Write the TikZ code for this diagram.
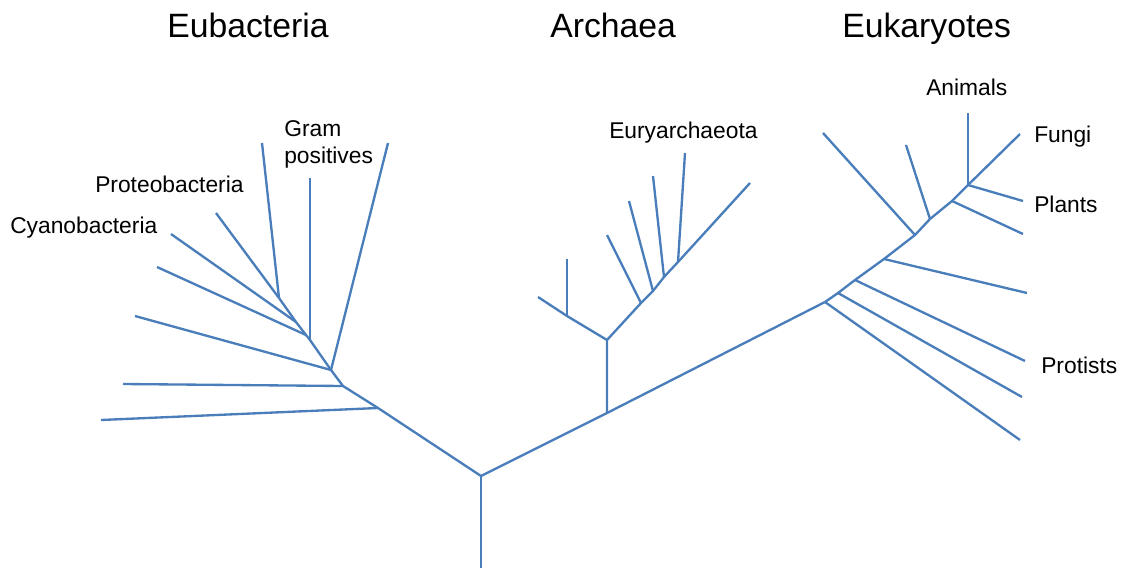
\documentclass[tikz,border=0pt]{standalone}
\usepackage{fontspec}
\setmainfont{Liberation Sans}
\usepackage{xcolor}
\usepackage{tikz}
\definecolor{treeblue}{HTML}{4A7EBB}

\begin{document}
\begin{tikzpicture}[
      x=0.75pt, y=-0.75pt,
      branch/.style={draw=treeblue, line width=1.75pt},
      kingdom/.style={anchor=base west, inner sep=0pt, font=\fontsize{25.3}{30}\selectfont},
      taxon/.style={anchor=base west, inner sep=0pt, font=\fontsize{17.1}{20}\selectfont}
    ]
      \useasboundingbox (0,0) rectangle (1122,568);
      % root and trunk
      \coordinate (base) at (481,568);
      \coordinate (root) at (481,476);
      % eubacteria
      \coordinate (b0) at (378,408);
      \coordinate (b1) at (343,386);
      \coordinate (b2) at (331,370);
      \coordinate (b3) at (310,340);
      \coordinate (b4) at (306,335);
      \coordinate (b5) at (296,322);
      \coordinate (j1) at (279,298);
      \coordinate (eb1) at (101,420);
      \coordinate (eb2) at (123,384);
      \coordinate (eb3) at (135,316);
      \coordinate (eb4) at (388,143);
      \coordinate (eb5) at (310,178);
      \coordinate (eb6) at (157,267);
      \coordinate (eb7) at (171,234);
      \coordinate (eb8) at (216,213);
      \coordinate (eb9) at (262,143);
      % archaea
      \coordinate (a0) at (607,413);
      \coordinate (a1) at (607,340);
      \coordinate (a2) at (567,316);
      \coordinate (a3) at (641,303);
      \coordinate (a4) at (653,291);
      \coordinate (a5) at (664,277);
      \coordinate (a6) at (678,262);
      \coordinate (ar1) at (538,297);
      \coordinate (ar2) at (567,259);
      \coordinate (ar3) at (607,235);
      \coordinate (ar4) at (629,201);
      \coordinate (ar5) at (653,176);
      \coordinate (ar6) at (685,153);
      \coordinate (ar7) at (750,183);
      % eukaryotes
      \coordinate (e0) at (825,302);
      \coordinate (e1) at (838,293);
      \coordinate (e2) at (855,280);
      \coordinate (e3) at (884,259);
      \coordinate (e4) at (915,235);
      \coordinate (e5) at (930,219);
      \coordinate (e6) at (952,201);
      \coordinate (e7) at (968,185);
      \coordinate (ek1) at (1020,440);
      \coordinate (ek2) at (1022,397);
      \coordinate (ek3) at (1025,361);
      \coordinate (ek4) at (1027,293);
      \coordinate (ek5) at (823,133);
      \coordinate (ek6) at (906,145);
      \coordinate (ek7) at (1023,234);
      \coordinate (ek8) at (1023,201);
      \coordinate (ek9) at (968,113);
      \coordinate (ek10) at (1020,134);

      \draw[branch] (base) -- (root);
      \draw[branch] (root) -- (b0) -- (b1) -- (b2) -- (b3) -- (b4) -- (b5) -- (j1);
      \draw[branch] (root) -- (a0) -- (e0);
      \draw[branch] (a0) -- (a1) -- (a2) -- (ar1);
      \draw[branch] (a1) -- (a3) -- (a4) -- (a5) -- (a6) -- (ar7);
      \draw[branch] (e0) -- (e1) -- (e2) -- (e3) -- (e4) -- (e5) -- (e6) -- (e7) -- (ek10);
      \foreach \from/\to in {b0/eb1, b1/eb2, b2/eb3, b2/eb4, b3/eb5, b4/eb6, b5/eb7, j1/eb8, j1/eb9,
          a2/ar2, a3/ar3, a4/ar4, a5/ar5, a6/ar6,
          e0/ek1, e1/ek2, e2/ek3, e3/ek4, e4/ek5, e5/ek6, e6/ek7, e7/ek8, e7/ek9}
        \draw[branch] (\from) -- (\to);

      % labels
      \node[kingdom] (eubact) at (167,37) {Eubacteria};
      \node[kingdom] (arch) at (550,37) {Archaea};
      \node[kingdom] (eukar) at (842,37) {Eukaryotes};
      \node[taxon] (cyano) at (10,233) {Cyanobacteria};
      \node[taxon] (proteo) at (95,192) {Proteobacteria};
      \node[taxon] (gram) at (284,136) {Gram};
      \node[taxon] (gramp) at (284,163) {positives};
      \node[taxon] (eury) at (609,138) {Euryarchaeota};
      \node[taxon] (anim) at (926,95) {Animals};
      \node[taxon] (fungi) at (1034,142) {Fungi};
      \node[taxon] (plant) at (1034,212) {Plants};
      \node[taxon] (protist) at (1041,373) {Protists};
    \end{tikzpicture}
\end{document}
